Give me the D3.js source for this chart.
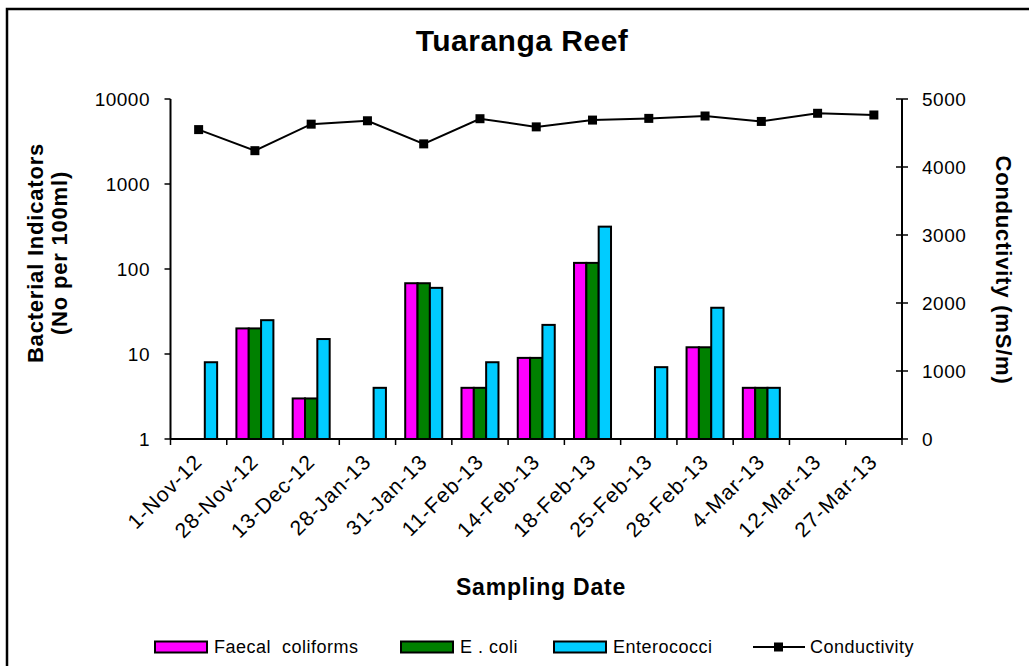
<!DOCTYPE html>
<html lang="en">
<head>
    <meta charset="UTF-8">
    <title>Tuaranga Reef</title>
    <style>
        body { margin: 0; background: #fff; }
        svg text { font-family: "Liberation Sans", Arial, sans-serif; fill: #000; }
    </style>
</head>
<body>
    <script src="https://cdn.jsdelivr.net/npm/d3@7"></script>
    <script type="text/javascript">
        // data
        var dates = ["1-Nov-12", "28-Nov-12", "13-Dec-12", "28-Jan-13", "31-Jan-13", "11-Feb-13", "14-Feb-13",
                     "18-Feb-13", "25-Feb-13", "28-Feb-13", "4-Mar-13", "12-Mar-13", "27-Mar-13"];
        var faecal = [null, 20, 3, null, 68, 4, 9, 118, null, 12, 4, null, null];
        var ecoli = [null, 20, 3, null, 68, 4, 9, 118, null, 12, 4, null, null];
        var entero = [8, 25, 15, 4, 60, 8, 22, 315, 7, 35, 4, null, null];
        var conductivity = [4550, 4240, 4630, 4680, 4340, 4710, 4590, 4690, 4715, 4750, 4670, 4790, 4765];
        var leftTicks = [1, 10, 100, 1000, 10000];
        var rightTicks = [0, 1000, 2000, 3000, 4000, 5000];

        var seriesNames = ["Faecal  coliforms", "E . coli", "Enterococci"];
        var seriesColors = ["#ff00ff", "#008000", "#00ccff"];
        var seriesData = [faecal, ecoli, entero];

        var w = 1029, h = 666;
        // plot box ("top" is taken by window.top, so use other names)
        var plotL = 170.5, plotR = 902, plotT = 99, plotB = 439;

        var svg = d3.select("body").append("svg").attr("width", w).attr("height", h);

        // outer frame (right and bottom edges fall outside the picture)
        svg.append("rect")
            .attr("x", 7).attr("y", 9)
            .attr("width", 1100).attr("height", 800)
            .attr("fill", "none").attr("stroke", "#000").attr("stroke-width", 2.5);

        var x = d3.scaleBand().domain(dates).range([plotL, plotR]);
        var groupW = 37;
        var x1 = d3.scaleBand().domain(d3.range(3))
            .range([(x.bandwidth() - groupW) / 2, (x.bandwidth() + groupW) / 2]);
        var y = d3.scaleLog().domain([1, 10000]).range([plotB, plotT]);
        var yR = d3.scaleLinear().domain([0, 5000]).range([plotB, plotT]);

        // bars
        seriesData.forEach(function(vals, s) {
            svg.append("g").selectAll("rect")
                .data(vals.map(function(v, i) { return {v: v, d: dates[i]}; }).filter(function(p) { return p.v != null; }))
                .enter()
                .append("rect")
                .attr("x", function(p) { return x(p.d) + x1(s); })
                .attr("y", function(p) { return y(p.v); })
                .attr("width", x1.bandwidth())
                .attr("height", function(p) { return y(1) - y(p.v); })
                .attr("fill", seriesColors[s])
                .attr("stroke", "#000")
                .attr("stroke-width", 2);
        });

        // left axis
        var axL = svg.append("g");
        axL.append("line").attr("x1", plotL).attr("x2", plotL).attr("y1", plotT).attr("y2", plotB)
            .attr("stroke", "#000").attr("stroke-width", 2);
        axL.selectAll("line.t").data(leftTicks).enter().append("line")
            .attr("x1", plotL - 6).attr("x2", plotL)
            .attr("y1", function(d) { return y(d); }).attr("y2", function(d) { return y(d); })
            .attr("stroke", "#000").attr("stroke-width", 1.5);
        axL.selectAll("text").data(leftTicks).enter().append("text")
            .attr("x", 150).attr("y", function(d) { return y(d); })
            .attr("dy", "0.36em")
            .attr("text-anchor", "end")
            .attr("font-size", "19px").attr("letter-spacing", "0.5px")
            .text(function(d) { return d; });

        // right axis
        var axR = svg.append("g");
        axR.append("line").attr("x1", plotR).attr("x2", plotR).attr("y1", plotT).attr("y2", plotB)
            .attr("stroke", "#000").attr("stroke-width", 2);
        axR.selectAll("line.t").data(rightTicks).enter().append("line")
            .attr("x1", plotR - 6).attr("x2", plotR + 6)
            .attr("y1", function(d) { return yR(d); }).attr("y2", function(d) { return yR(d); })
            .attr("stroke", "#000").attr("stroke-width", 1.5);
        axR.selectAll("text").data(rightTicks).enter().append("text")
            .attr("x", 922).attr("y", function(d) { return yR(d); })
            .attr("dy", "0.36em")
            .attr("font-size", "19px").attr("letter-spacing", "0.5px")
            .text(function(d) { return d; });

        // bottom axis, ticks between dates
        var axB = svg.append("g");
        axB.append("line").attr("x1", plotL).attr("x2", plotR).attr("y1", plotB).attr("y2", plotB)
            .attr("stroke", "#000").attr("stroke-width", 2);
        var bounds = dates.map(function(d) { return x(d); }).concat([plotR]);
        axB.selectAll("line.t").data(bounds).enter().append("line")
            .attr("x1", function(d) { return d; }).attr("x2", function(d) { return d; })
            .attr("y1", plotB).attr("y2", plotB + 6)
            .attr("stroke", "#000").attr("stroke-width", 1.5);
        axB.selectAll("text").data(dates).enter().append("text")
            .attr("text-anchor", "end")
            .attr("font-size", "21px").attr("letter-spacing", "1.1px")
            .attr("transform", function(d) {
                return "translate(" + (x(d) + x.bandwidth() / 2 + 5) + "," + 463 + ") rotate(-45)";
            })
            .text(function(d) { return d; });

        // conductivity line
        var line = d3.line()
            .x(function(d, i) { return x(dates[i]) + x.bandwidth() / 2; })
            .y(function(d) { return yR(d); });
        svg.append("path").datum(conductivity)
            .attr("d", line)
            .attr("fill", "none").attr("stroke", "#000").attr("stroke-width", 2);
        svg.append("g").selectAll("rect")
            .data(conductivity)
            .enter()
            .append("rect")
            .attr("x", function(d, i) { return x(dates[i]) + x.bandwidth() / 2 - 4.5; })
            .attr("y", function(d) { return yR(d) - 4.5; })
            .attr("width", 9).attr("height", 9)
            .attr("fill", "#000");

        // titles
        svg.append("text")
            .attr("x", 522).attr("y", 51)
            .attr("text-anchor", "middle")
            .attr("font-size", "30px").attr("font-weight", "bold").attr("letter-spacing", "0.5px")
            .text("Tuaranga Reef");

        svg.append("text")
            .attr("x", 541).attr("y", 595)
            .attr("text-anchor", "middle")
            .attr("font-size", "23px").attr("font-weight", "bold").attr("letter-spacing", "0.8px")
            .text("Sampling Date");

        svg.append("text")
            .attr("transform", "translate(43,253) rotate(-90)")
            .attr("text-anchor", "middle")
            .attr("font-size", "22px").attr("font-weight", "bold").attr("letter-spacing", "0.8px")
            .text("Bacterial Indicators");
        svg.append("text")
            .attr("transform", "translate(67,253) rotate(-90)")
            .attr("text-anchor", "middle")
            .attr("font-size", "22px").attr("font-weight", "bold").attr("letter-spacing", "0.8px")
            .text("(No per 100ml)");

        svg.append("text")
            .attr("transform", "translate(996,270) rotate(90)")
            .attr("text-anchor", "middle")
            .attr("font-size", "22px").attr("font-weight", "bold").attr("letter-spacing", "0.8px")
            .text("Conductivity (mS/m)");

        // legend
        var legY = 647;
        var legX = [155, 401, 554];
        var leg = svg.append("g");
        seriesNames.forEach(function(name, i) {
            leg.append("rect")
                .attr("x", legX[i]).attr("y", legY - 5.5)
                .attr("width", 52).attr("height", 11)
                .attr("fill", seriesColors[i]).attr("stroke", "#000").attr("stroke-width", 2);
            leg.append("text")
                .attr("x", legX[i] + 59).attr("y", legY + 6)
                .attr("font-size", "18px").attr("letter-spacing", "0.5px")
                .style("white-space", "pre")
                .text(name);
        });
        leg.append("line").attr("x1", 753).attr("x2", 805).attr("y1", legY).attr("y2", legY)
            .attr("stroke", "#000").attr("stroke-width", 2);
        leg.append("rect").attr("x", 774).attr("y", legY - 4.5).attr("width", 9).attr("height", 9)
            .attr("fill", "#000");
        leg.append("text")
            .attr("x", 810).attr("y", legY + 6)
            .attr("font-size", "18px").attr("letter-spacing", "0.5px")
            .text("Conductivity");
    </script>
</body>
</html>
